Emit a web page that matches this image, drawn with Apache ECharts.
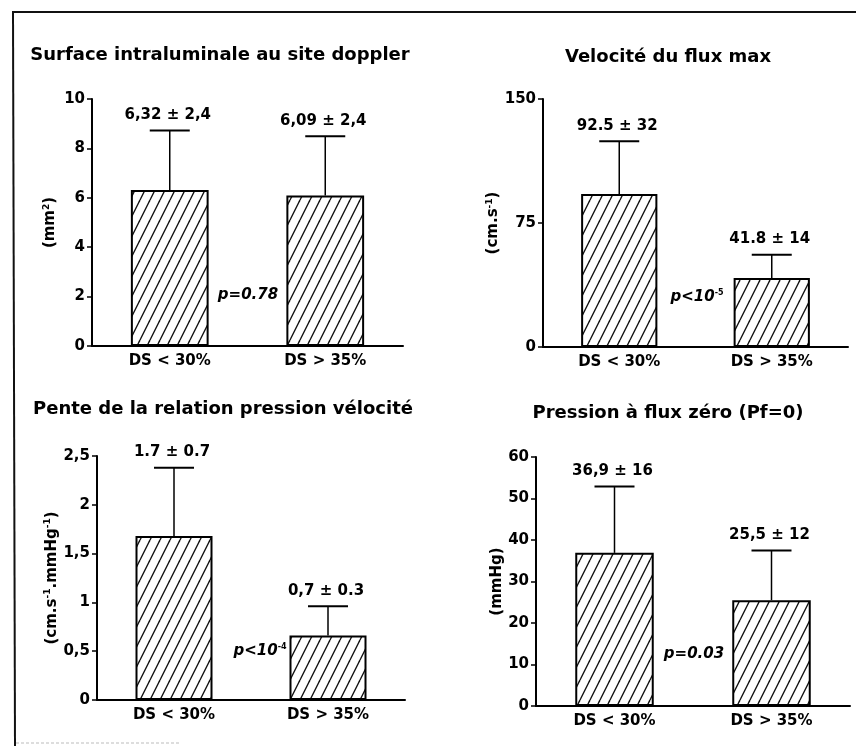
<!DOCTYPE html>
<html><head><meta charset="utf-8">
<script src="https://cdn.jsdelivr.net/npm/echarts@6/dist/echarts.min.js"></script>
<style>html,body{margin:0;padding:0;background:#fff}#c{width:856px;height:753px}</style>
</head><body><div id="c"></div>
<script>
const categories = ['DS < 30%', 'DS > 35%'];
const surfMean = [6.32, 6.09];
const surfSD = [2.4, 2.4];
const surfLabels = ['6,32 ± 2,4', '6,09 ± 2,4'];
const velMean = [92.5, 41.8];
const velSD = [32, 14];
const velLabels = ['92.5 ± 32', '41.8 ± 14'];
const penteMean = [1.68, 0.66];
const penteSD = [0.7, 0.3];
const penteLabels = ['1.7 ± 0.7', '0,7 ± 0.3'];
const pfMean = [36.9, 25.5];
const pfSD = [16, 12];
const pfLabels = ['36,9 ± 16', '25,5 ± 12'];
const yTicks = [
  {max: 10, interval: 2},
  {max: 150, interval: 75},
  {max: 2.5, interval: 0.5},
  {max: 60, interval: 10}
];

const FONT = '"DejaVu Sans", "Liberation Sans", Arial, sans-serif';

// hatch pattern
const pc = document.createElement('canvas');
pc.width = 10; pc.height = 20;
const g = pc.getContext('2d');
g.fillStyle = '#fff'; g.fillRect(0, 0, 10, 20);
g.strokeStyle = '#111'; g.lineWidth = 1.4;
for (const o of [-10, 0, 10]) {
  g.beginPath(); g.moveTo(o, 20); g.lineTo(o + 10, 0); g.stroke();
}
const hatch = {image: pc, repeat: 'repeat'};

const grids = [
  {left: 92, top: 99, width: 311, height: 247},
  {left: 543, top: 99, width: 305, height: 248},
  {left: 97, top: 456, width: 308, height: 244},
  {left: 536, top: 457, width: 314, height: 249}
];
const yNames = [
  {rich: ['(mm', '2', ')'], gap: 33},
  {rich: ['(cm.s', '-1', ')'], gap: 40},
  {rich: ['(cm.s', '-1', '.mmHg', '-1', ')'], gap: 34},
  {rich: ['(mmHg)'], gap: 29}
];
function richName(parts) {
  return parts.map((p, i) => i % 2 === 1 ? '{s|' + p + '}' : '{n|' + p + '}').join('');
}
const means = [surfMean, velMean, penteMean, pfMean];
const sds = [surfSD, velSD, penteSD, pfSD];
const labels = [surfLabels, velLabels, penteLabels, pfLabels];

const xAxis = grids.map((_, i) => ({
  type: 'category', gridIndex: i, data: categories,
  axisLine: {lineStyle: {color: '#000', width: 2}},
  axisTick: {show: false},
  axisLabel: {color: '#000', fontFamily: FONT, fontWeight: 'bold', fontSize: 15, margin: 8}
}));
const yAxis = grids.map((_, i) => ({
  type: 'value', gridIndex: i, min: 0, max: yTicks[i].max, interval: yTicks[i].interval,
  splitLine: {show: false},
  axisLine: {show: true, lineStyle: {color: '#000', width: 2}},
  axisTick: {show: true, length: 5, lineStyle: {color: '#000', width: 1.5}},
  axisLabel: {color: '#000', fontFamily: FONT, fontWeight: 'bold', fontSize: 15, margin: 7,
    formatter: v => String(v).replace('.', ',')},
  name: richName(yNames[i].rich), nameLocation: 'middle', nameGap: yNames[i].gap, nameRotate: 90,
  nameTextStyle: {
    rich: {
      n: {fontFamily: FONT, fontWeight: 'bold', fontSize: 15, color: '#000', lineHeight: 17},
      s: {fontFamily: FONT, fontWeight: 'bold', fontSize: 9, color: '#000', verticalAlign: 'top', lineHeight: 17}
    }
  }
}));

const series = [];
grids.forEach((_, i) => {
  series.push({
    type: 'bar', xAxisIndex: i, yAxisIndex: i, data: means[i], barWidth: '50%',
    itemStyle: {color: hatch, borderColor: '#000', borderWidth: 2},
    z: 2
  });
  series.push({
    type: 'custom', xAxisIndex: i, yAxisIndex: i, z: 3,
    data: means[i].map((m, k) => [k, m, sds[i][k]]),
    renderItem: function (params, api) {
      const x = api.value(0), m = api.value(1), s = api.value(2);
      const b = api.coord([x, m]);
      const t = api.coord([x, m + s]);
      return {
        type: 'group', children: [
          {type: 'line', shape: {x1: b[0], y1: b[1], x2: t[0], y2: t[1]}, style: {stroke: '#000', lineWidth: 1.5}},
          {type: 'line', shape: {x1: t[0] - 20, y1: t[1], x2: t[0] + 20, y2: t[1]}, style: {stroke: '#000', lineWidth: 2}},
          {type: 'text', style: {text: labels[i][params.dataIndex], x: t[0] - 2, y: t[1] - 8,
            align: 'center', verticalAlign: 'bottom', fill: '#000',
            font: 'bold 15px ' + FONT}}
        ]
      };
    }
  });
});

function title(text, x, y) {
  return {type: 'text', x: x, y: y,
    style: {text: text, align: 'center', verticalAlign: 'middle', fill: '#000', font: 'bold 18px ' + FONT}};
}
function pval(richText, x, y) {
  return {type: 'text', x: x, y: y,
    style: {text: richText, align: 'center', verticalAlign: 'middle',
      rich: {
        n: {fontFamily: FONT, fontWeight: 'bold', fontStyle: 'italic', fontSize: 15, fill: '#000', lineHeight: 17},
        s: {fontFamily: FONT, fontWeight: 'bold', fontSize: 8, fill: '#000', verticalAlign: 'top', lineHeight: 17}
      }}};
}

const graphic = [
  {type: 'line', shape: {x1: 12, y1: 12, x2: 856, y2: 12}, style: {stroke: '#111', lineWidth: 2}},
  {type: 'line', shape: {x1: 13, y1: 12, x2: 15, y2: 746}, style: {stroke: '#111', lineWidth: 2}},
  {type: 'line', shape: {x1: 16, y1: 743, x2: 180, y2: 743}, style: {stroke: '#bbb', lineWidth: 1, lineDash: [3, 2]}},
  title('Surface intraluminale au site doppler', 220, 55),
  title('Velocité du flux max', 668, 57),
  title('Pente de la relation pression vélocité', 223, 409),
  title('Pression à flux zéro (Pf=0)', 668, 413),
  pval('{n|p=0.78}', 248, 295),
  pval('{n|p<10}{s|-5}', 697, 297),
  pval('{n|p<10}{s|-4}', 260, 651),
  pval('{n|p=0.03}', 694, 654)
];

const chart = echarts.init(document.getElementById('c'), null, {renderer: 'canvas'});
chart.setOption({
  backgroundColor: '#fff',
  animation: false,
  grid: grids.map(gr => Object.assign({containLabel: false}, gr)),
  xAxis: xAxis, yAxis: yAxis, series: series, graphic: graphic
});
</script></body></html>
